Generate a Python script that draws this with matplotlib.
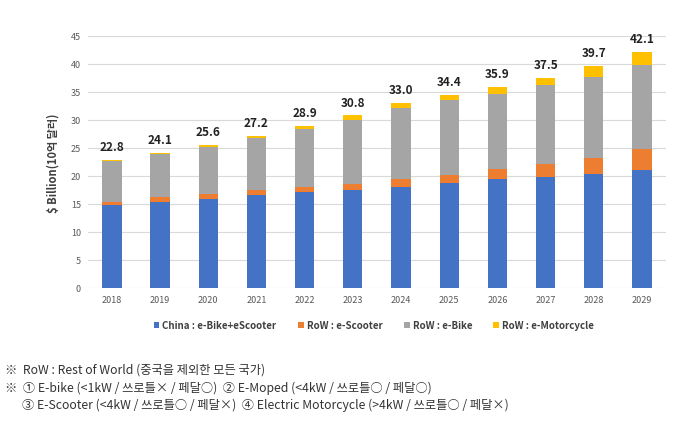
import numpy as np
import matplotlib.pyplot as plt

plt.rcParams['font.family'] = ['Noto Sans CJK KR', 'DejaVu Sans']

# Market size by segment ($ billion)
years = ['2018', '2019', '2020', '2021', '2022', '2023',
         '2024', '2025', '2026', '2027', '2028', '2029']
china = [14.8, 15.3, 15.9, 16.5, 17.1, 17.5, 18.0, 18.7, 19.5, 19.8, 20.4, 21.1]
row_scooter = [0.5, 0.9, 0.9, 0.9, 0.9, 1.1, 1.4, 1.5, 1.7, 2.4, 2.8, 3.7]
row_bike = [7.4, 7.7, 8.4, 9.3, 10.3, 11.4, 12.7, 13.3, 13.5, 14.1, 14.5, 15.0]
row_moto = [0.1, 0.2, 0.4, 0.5, 0.6, 0.8, 0.9, 0.9, 1.2, 1.2, 2.0, 2.3]
totals = ['22.8', '24.1', '25.6', '27.2', '28.9', '30.8',
          '33.0', '34.4', '35.9', '37.5', '39.7', '42.1']

series = [
    ('China : e-Bike+eScooter', china, '#4472C4'),
    ('RoW : e-Scooter', row_scooter, '#ED7D31'),
    ('RoW : e-Bike', row_bike, '#A5A5A5'),
    ('RoW : e-Motorcycle', row_moto, '#FFC000'),
]

fig = plt.figure(figsize=(6.86, 4.35), dpi=100)
ax = fig.add_axes([0.128, 0.336, 0.843, 0.579])

x = np.arange(len(years))
bottom = np.zeros(len(years))
handles = []
for name, vals, col in series:
    b = ax.bar(x, vals, width=0.4, bottom=bottom, color=col, label=name, zorder=3)
    handles.append(b)
    bottom = bottom + np.array(vals)

for xi, top, txt in zip(x, bottom, totals):
    ax.annotate(txt, (xi, top), xytext=(0, 5), textcoords='offset points',
                ha='center', va='bottom', fontsize=8.5, fontweight='bold',
                color='#222222')

ax.set_xlim(-0.5, len(years) - 0.5)
ax.set_ylim(0, 45)
ax.set_yticks(np.arange(0, 46, 5))
ax.set_xticks(x)
ax.set_xticklabels(years)
ax.grid(axis='y', color='#D9D9D9', linewidth=0.8, zorder=0)
for s in ax.spines.values():
    s.set_visible(False)
ax.tick_params(length=0, labelsize=6.5, labelcolor='#595959', pad=5)
ax.set_ylabel('$ Billion(10억 달러)', fontsize=8, fontweight='bold',
              color='#404040', labelpad=8)

leg = fig.legend(handles=handles, loc='center', bbox_to_anchor=(0.545, 0.25),
                 ncol=4, frameon=False, fontsize=7, handlelength=0.6,
                 handleheight=0.6, handletextpad=0.3, columnspacing=2.2)
for t in leg.get_texts():
    t.set_fontweight('bold')
    t.set_color('#404040')

notes = [
    (0.008, 0.149, '※  RoW : Rest of World (중국을 제외한 모든 국가)'),
    (0.008, 0.108, '※  ① E-bike (<1kW / 쓰로틀× / 페달○)  ② E-Moped (<4kW / 쓰로틀○ / 페달○)'),
    (0.032, 0.068, '③ E-Scooter (<4kW / 쓰로틀○ / 페달×)  ④ Electric Motorcycle (>4kW / 쓰로틀○ / 페달×)'),
]
for nx, ny, txt in notes:
    fig.text(nx, ny, txt, fontsize=8.8, color='#333333', va='center', ha='left')

fig.savefig('out.png', dpi=100)
